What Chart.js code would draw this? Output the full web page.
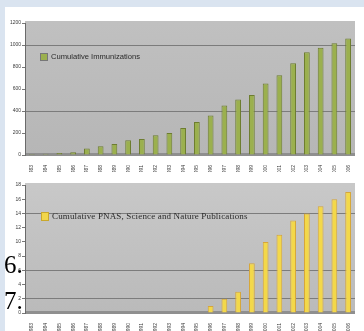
<!DOCTYPE html>
<html>
<head>
<meta charset="utf-8">
<script src="https://cdn.jsdelivr.net/npm/chart.js@4.4.1/dist/chart.umd.min.js"></script>
<style>
  html, body { margin: 0; padding: 0; }
  body { width: 364px; height: 331px; background: #dae4f0; position: relative; overflow: hidden; }
  #sheet { position: absolute; left: 5px; top: 7px; width: 359px; height: 324px; background: #fff; }
  .chartBox { position: absolute; left: 5px; width: 359px; }
  #topBox { top: 7px; height: 165px; }
  #bottomBox { top: 172px; height: 159px; }
  .legend { position: absolute; display: flex; align-items: center; color: #2a2a2a; white-space: nowrap; }
  .legend span.box { display: inline-block; margin-right: 3px; border: 1px solid #777; }
  #topLegend { left: 40px; top: 52px; font: 7.6px "Liberation Sans", sans-serif; }
  #topLegend span.box { width: 6px; height: 6px; background: #9bb04e; }
  #bottomLegend { left: 41px; top: 211px; font: 9px "Liberation Serif", serif; letter-spacing: 0.15px; }
  #bottomLegend span.box { width: 6px; height: 7px; background: #f2d64a; border-color: #c9a82c; }
  .num { position: absolute; left: 4px; font: 25px "Liberation Serif", serif; color: #000; line-height: 1; }
</style>
</head>
<body>
<div id="sheet"></div>
<div class="chartBox" id="topBox"><canvas id="topChart"></canvas></div>
<div class="chartBox" id="bottomBox"><canvas id="bottomChart"></canvas></div>
<div class="legend" id="topLegend"><span class="box"></span>Cumulative Immunizations</div>
<div class="legend" id="bottomLegend"><span class="box"></span>Cumulative PNAS, Science and Nature Publications</div>
<div class="num" style="top:252px;">6.</div>
<div class="num" style="top:288px;">7.</div>
<script>
const years = ['1983','1984','1985','1986','1987','1988','1989','1990','1991','1992','1993','1994',
               '1995','1996','1997','1998','1999','2000','2001','2002','2003','2004','2005','2006'];

const immunizations = [8, 12, 18, 25, 60, 80, 100, 135, 145, 180, 200, 245,
                       300, 360, 450, 505, 545, 650, 725, 835, 935, 975, 1015, 1060];

const publications = [0, 0, 0, 0, 0, 0, 0, 0, 0, 0, 0, 0,
                      0, 1, 2, 3, 7, 10, 11, 13, 14, 15, 16, 17];

const topTicks = { max: 1200, step: 200 };
const bottomTicks = { max: 18, step: 2 };

// gridlines that show up darker in the scan
const topStrong = [400, 1000];
const bottomStrong = [2, 6, 14];

// gray plot wall + darker floor strip
const wallPlugin = {
    id: 'wall',
    beforeDraw(chart, args, opts) {
        const { ctx, chartArea: a } = chart;
        ctx.save();
        const g = ctx.createLinearGradient(0, a.top, 0, a.bottom);
        g.addColorStop(0, opts.top);
        g.addColorStop(1, opts.bottom);
        ctx.fillStyle = g;
        ctx.fillRect(a.left, a.top - 2, a.right - a.left, a.bottom - a.top + 2);
        ctx.fillStyle = '#8f8f8f';
        ctx.fillRect(a.left, a.bottom - 2, a.right - a.left, 3);
        ctx.restore();
    }
};

function makeChart(id, labels, values, ticks, strong, colors, pad) {
    return new Chart(document.getElementById(id), {
        type: 'bar',
        data: {
            labels: labels,
            datasets: [{
                data: values,
                backgroundColor: colors.fill,
                borderColor: colors.edge,
                borderWidth: 1,
                barPercentage: 0.42,
                categoryPercentage: 1
            }]
        },
        options: {
            responsive: true,
            maintainAspectRatio: false,
            animation: false,
            layout: { padding: pad },
            plugins: {
                legend: { display: false },
                tooltip: { enabled: false },
                wall: colors.wall
            },
            scales: {
                x: {
                    grid: { display: false },
                    border: { display: false },
                    ticks: {
                        font: { size: 5, family: 'Liberation Sans' },
                        color: '#3a3a3a',
                        minRotation: 90, maxRotation: 90,
                        autoSkip: false, padding: 2
                    },
                    afterFit(scale) { scale.height = pad.axisH; }
                },
                y: {
                    min: 0, max: ticks.max,
                    grid: {
                        color: c => strong.includes(c.tick.value) ? '#7c7c7c' : 'rgba(0,0,0,0)',
                        lineWidth: 1,
                        drawTicks: true,
                        tickLength: 3,
                        tickColor: '#777'
                    },
                    border: { display: true, color: '#6a6a6a' },
                    ticks: {
                        stepSize: ticks.step,
                        font: { size: 5, family: 'Liberation Sans' },
                        color: '#3a3a3a',
                        padding: 1,
                        callback: v => String(v)
                    },
                    afterFit(scale) { scale.width = 20; }
                }
            }
        },
        plugins: [wallPlugin]
    });
}

makeChart('topChart', years, immunizations, topTicks, topStrong,
    { fill: '#9bb04e', edge: '#6d7d30', wall: { top: '#c0c0c0', bottom: '#b6b6b6' } },
    { top: 16, right: 9, left: 0, bottom: 0, axisH: 17 });

makeChart('bottomChart', years, publications, bottomTicks, bottomStrong,
    { fill: '#f3d84a', edge: '#d6a63a', wall: { top: '#c8c8c8', bottom: '#bababa' } },
    { top: 13, right: 9, left: 0, bottom: 0, axisH: 18 });
</script>
</body>
</html>
